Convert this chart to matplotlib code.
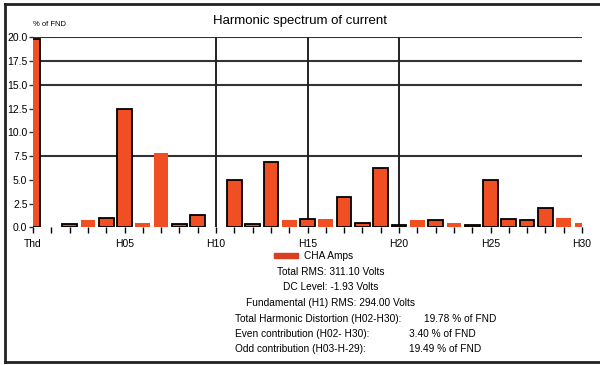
"""Harmonic spectrum of current - bar chart with summary text."""
import numpy as np
import matplotlib
matplotlib.use("Agg")
import matplotlib.pyplot as plt
from matplotlib.lines import Line2D
from matplotlib.patches import Rectangle

# harmonic labels (Thd first, then H01..H30)
harmonics = ["Thd"] + [f"H{i:02d}" for i in range(1, 31)]
# % of fundamental (H01 / H10 not shown)
percent_fnd = [19.8, np.nan, 0.4, 0.8, 1.0, 12.5, 0.5, 7.8, 0.4, 1.3, np.nan,
               5.0, 0.4, 6.9, 0.8, 0.9, 0.9, 3.2, 0.5, 6.2, 0.3,
               0.8, 0.8, 0.5, 0.3, 5.0, 0.9, 0.8, 2.0, 1.0, 0.5]
# bars drawn with a black outline in the original
outlined = {"Thd", "H02", "H04", "H05", "H08", "H09", "H11", "H12", "H13", "H15",
            "H17", "H18", "H19", "H20", "H22", "H24", "H25", "H26", "H27", "H28"}

x_labels = ["Thd", "H05", "H10", "H15", "H20", "H25", "H30"]
y_ticks = [0.0, 2.5, 5.0, 7.5, 10.0, 12.5, 15.0, 17.5, 20.0]
hgrid = [7.5, 15.0, 17.5, 20.0]
vgrid = [10, 15, 20]

series_name = "CHA Amps"
summary_centered = ["Total RMS: 311.10 Volts",
                    "DC Level: -1.93 Volts",
                    "Fundamental (H1) RMS: 294.00 Volts"]
summary_rows = [("Total Harmonic Distortion (H02-H30):", "19.78 % of FND"),
                ("Even contribution (H02- H30):", "3.40 % of FND"),
                ("Odd contribution (H03-H-29):", "19.49 % of FND")]

BAR = "#f04e23"
plt.rcParams["font.family"] = ["Liberation Sans", "DejaVu Sans"]

fig = plt.figure(figsize=(6, 3.65), dpi=100)
ax = fig.add_axes([0.055, 0.377, 0.915, 0.521])

for g in hgrid:
    ax.axhline(g, color="#333333", lw=1.5, zorder=1)
for g in vgrid:
    ax.axvline(g, color="#222222", lw=1.4, zorder=1)

pos = np.arange(len(harmonics))
for p, name, v in zip(pos, harmonics, percent_fnd):
    if np.isnan(v):
        continue
    if name in outlined:
        ax.bar(p, v, width=0.8, color=BAR, edgecolor="black", lw=1.3, zorder=2)
    else:
        ax.bar(p, v, width=0.8, color=BAR, lw=0, zorder=2)

ax.set_xlim(0, 30)
ax.set_ylim(0, 20)
ax.set_xticks(pos)
ax.set_xticklabels([h if h in x_labels else "" for h in harmonics], fontsize=7.5)
ax.set_yticks(y_ticks)
ax.set_yticklabels([f"{t:.1f}" for t in y_ticks], fontsize=7.5)
ax.tick_params(axis="x", length=4, width=1, color="black", pad=4)
ax.tick_params(axis="y", length=3, width=1, color="#333333", pad=1)
for s in ax.spines.values():
    s.set_visible(False)

fig.text(0.5, 0.942, "Harmonic spectrum of current", ha="center", va="center",
         fontsize=9.5)
fig.text(0.055, 0.933, "% of FND", ha="left", va="center", fontsize=5.5)

# legend
fig.patches.append(Rectangle((274 / 600, 1 - 258 / 365), 24 / 600, 5 / 365,
                             transform=fig.transFigure, color="#d8401f"))
fig.text(304 / 600, 1 - 256 / 365, series_name, ha="left", va="center", fontsize=7.3)

ys = [272, 287, 303]
for y, t in zip(ys, summary_centered):
    fig.text(331 / 600, 1 - y / 365, t, ha="center", va="center", fontsize=7.3)
rows_y = [319, 334, 349]
val_x = [424, 409, 409]
for y, vx, (lab, val) in zip(rows_y, val_x, summary_rows):
    fig.text(235 / 600, 1 - y / 365, lab, ha="left", va="center", fontsize=7.3)
    fig.text(vx / 600, 1 - y / 365, val, ha="left", va="center", fontsize=7.3)

# outer frame (left, top, bottom)
frame = dict(color="#222222", lw=2, transform=fig.transFigure)
fig.lines.append(Line2D([5 / 600, 5 / 600], [1 - 4 / 365, 1 - 362 / 365], **frame))
fig.lines.append(Line2D([5 / 600, 1], [1 - 4 / 365, 1 - 4 / 365], **frame))
fig.lines.append(Line2D([5 / 600, 1], [1 - 362 / 365, 1 - 362 / 365], **frame))

fig.savefig("out.png", dpi=100)
